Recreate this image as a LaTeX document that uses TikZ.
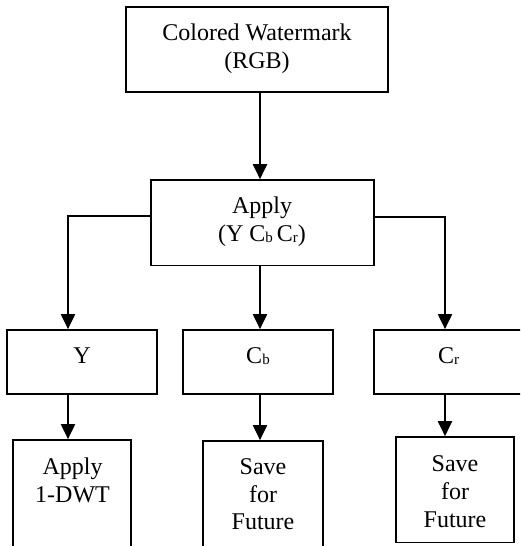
\documentclass[tikz,border=0pt]{standalone}
\usepackage{fontspec}
\setmainfont{Liberation Serif}
\usetikzlibrary{arrows.meta}
\newcommand\subsc[1]{\raisebox{-1.5pt}{\fontsize{15}{15}\selectfont #1}}
\begin{document}
\begin{tikzpicture}[x=1pt,y=-1pt,
  box/.style={draw, line width=1.7pt, rectangle, inner sep=0pt},
  lbl/.style={anchor=base, inner sep=0pt, font=\fontsize{24}{28.3}\selectfont},
  conn/.style={line width=2pt, -{Triangle[length=15pt,width=14pt]}}]
\clip (0,0) rectangle (520,546);
% boxes
\node[box, minimum width=262pt, minimum height=85pt] (top) at (257,49.5) {};
\node[box, minimum width=223pt, minimum height=85.5pt] (apply) at (262.5,222.8) {};
\node[box, minimum width=150pt, minimum height=64pt] (Y) at (82,362) {};
\node[box, minimum width=150pt, minimum height=64pt] (Cb) at (258,362) {};
\node[box, minimum width=148pt, minimum height=64pt] (Cr) at (448,362) {};
\node[box, minimum width=118pt, minimum height=110pt] (dwt) at (72,495) {};
\node[box, minimum width=120pt, minimum height=110pt] (save1) at (263,496) {};
\node[box, minimum width=118pt, minimum height=105.3pt] (save2) at (455,489.7) {};
% texts
\node[lbl] (t1) at (257,40) {Colored Watermark};
\node[lbl] (t2) at (257,68.3) {(RGB)};
\node[lbl] (t3) at (262,213) {Apply};
\node[lbl] (t4) at (262,241) {(Y C\subsc{b}\,C\subsc{r})};
\node[lbl] (t5) at (82,363) {Y};
\node[lbl] (t6) at (258,363) {C\subsc{b}};
\node[lbl] (t7) at (448.5,363) {C\subsc{r}};
\node[lbl] (t8) at (72.5,474.7) {Apply};
\node[lbl] (t9) at (72.5,502) {1-DWT};
\node[lbl] (t10) at (263,474.7) {Save};
\node[lbl] (t11) at (263,502.3) {for};
\node[lbl] (t12) at (263,529.7) {Future};
\node[lbl] (t13) at (455,471) {Save};
\node[lbl] (t14) at (455,499.7) {for};
\node[lbl] (t15) at (455,527) {Future};
% connectors
\coordinate (colL) at (68,216);
\coordinate (colR) at (445,217);
\coordinate (colM) at (260,0);
\draw[conn] (top.south -| colM) -- (apply.north -| colM);
\draw[conn] (apply.west |- colL) -| (Y.north -| colL);
\draw[conn] (apply.east |- colR) -| (Cr.north -| colR);
\draw[conn] (apply.south -| colM) -- (Cb.north -| colM);
\draw[conn] (Y.south -| colL) -- (dwt.north -| colL);
\draw[conn] (Cb.south -| colM) -- (save1.north -| colM);
\draw[conn] (Cr.south -| colR) -- (save2.north -| colR);
\end{tikzpicture}
\end{document}
